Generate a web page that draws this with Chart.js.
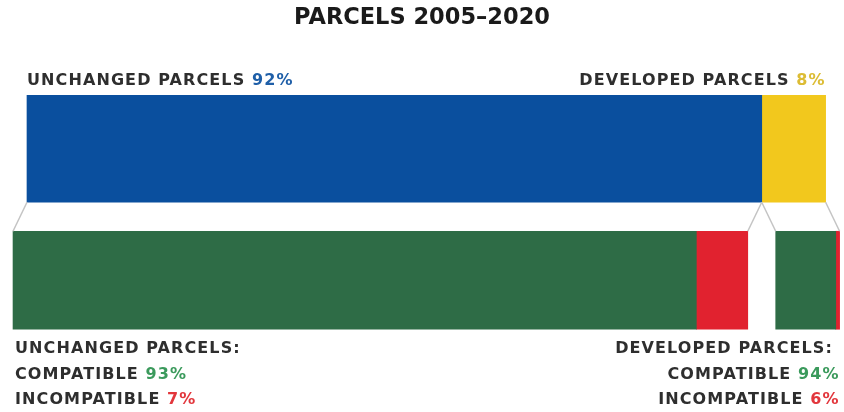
<!DOCTYPE html>
<html>
<head>
<meta charset="utf-8">
<script src="https://cdn.jsdelivr.net/npm/chart.js@4/dist/chart.umd.min.js"></script>
<style>
  html, body { margin: 0; padding: 0; background: #ffffff; }
  #wrap { position: relative; width: 844px; height: 412px; }
</style>
</head>
<body>
<div id="wrap"><canvas id="parcels"></canvas></div>
<script>
// share of all parcels, 2005-2020
const groups = ['UNCHANGED PARCELS', 'DEVELOPED PARCELS'];
const shares = [92, 8];
// split of each group
const compatible = [93, 94];
const incompatible = [7, 6];

const groupColors = ['#0a4f9e', '#f2c81d'];
const groupTextColors = ['#1f5fa8', '#dcbc34'];
const compatColor = '#2e6c46';
const incompatColor = '#e1222f';
const compatText = '#3b9a5c';
const incompatText = '#e2363c';

const spread = 1.75;      // lower row pulled apart by this much on each side
const labelFont = '600 16px "DejaVu Sans", sans-serif';

// floating bar ranges built from the shares
const topStart = [0, shares[0]];
const lowStart = [-spread, shares[0] + spread];

function rowData(row, range) {
    return row === 0 ? [range, null] : [null, range];
}

const datasets = [];
groups.forEach((g, i) => {
    datasets.push({
        label: g,
        data: rowData(0, [topStart[i], topStart[i] + shares[i]]),
        backgroundColor: groupColors[i],
        barThickness: 107
    });
});
groups.forEach((g, i) => {
    const split = lowStart[i] + shares[i] * compatible[i] / 100;
    datasets.push({
        label: g + ' compatible',
        data: rowData(1, [lowStart[i], split]),
        backgroundColor: compatColor,
        barThickness: 98
    });
    datasets.push({
        label: g + ' incompatible',
        data: rowData(1, [split, split + shares[i] * incompatible[i] / 100]),
        backgroundColor: incompatColor,
        barThickness: 98
    });
});

function el(chart, ds, row) {
    return chart.getDatasetMeta(ds).data[row].getProps(['x', 'base', 'y', 'height'], true);
}

function drawPair(ctx, text, pct, pctColor, x, y, align) {
    ctx.textAlign = 'left';
    const space = ctx.measureText(' ').width;
    const wText = ctx.measureText(text).width;
    const wPct = ctx.measureText(pct).width;
    let start = align === 'right' ? x - wText - space - wPct : x;
    ctx.fillStyle = '#2e2e2e';
    ctx.fillText(text, start, y);
    if (pct) {
        ctx.fillStyle = pctColor;
        ctx.fillText(pct, start + wText + space, y);
    }
}

const annotations = {
    id: 'annotations',
    afterDatasetsDraw(chart) {
        const ctx = chart.ctx;
        const topA = el(chart, 0, 0), topB = el(chart, 1, 0);
        const lowA1 = el(chart, 2, 1), lowA2 = el(chart, 3, 1);
        const lowB1 = el(chart, 4, 1), lowB2 = el(chart, 5, 1);
        const yTopBottom = topA.y + topA.height / 2;
        const yTopTop = topA.y - topA.height / 2;
        const yLowTop = lowA1.y - lowA1.height / 2;
        const yLowBottom = lowA1.y + lowA1.height / 2;

        // connectors
        ctx.save();
        ctx.strokeStyle = '#c4c4c4';
        ctx.lineWidth = 1.5;
        [[topA.base, lowA1.base], [topA.x, lowA2.x], [topB.base, lowB1.base], [topB.x, lowB2.x]].forEach(([a, b]) => {
            ctx.beginPath();
            ctx.moveTo(a, yTopBottom);
            ctx.lineTo(b, yLowTop);
            ctx.stroke();
        });

        // labels
        ctx.font = labelFont;
        if ('letterSpacing' in ctx) ctx.letterSpacing = '1.1px';
        ctx.textBaseline = 'alphabetic';
        drawPair(ctx, groups[0], shares[0] + '%', groupTextColors[0], topA.base, yTopTop - 10, 'left');
        drawPair(ctx, groups[1], shares[1] + '%', groupTextColors[1], topB.x, yTopTop - 10, 'right');

        const lines = [24, 49.5, 75];
        const lx = lowA1.base + 2, rx = lowB2.x;
        drawPair(ctx, groups[0] + ':', '', '', lx, yLowBottom + lines[0], 'left');
        drawPair(ctx, 'COMPATIBLE', compatible[0] + '%', compatText, lx, yLowBottom + lines[1], 'left');
        drawPair(ctx, 'INCOMPATIBLE', incompatible[0] + '%', incompatText, lx, yLowBottom + lines[2], 'left');
        drawPair(ctx, groups[1] + ':', '', '', rx, yLowBottom + lines[0], 'right');
        drawPair(ctx, 'COMPATIBLE', compatible[1] + '%', compatText, rx, yLowBottom + lines[1], 'right');
        drawPair(ctx, 'INCOMPATIBLE', incompatible[1] + '%', incompatText, rx, yLowBottom + lines[2], 'right');
        ctx.restore();
    }
};

new Chart(document.getElementById('parcels'), {
    type: 'bar',
    data: { labels: ['all', 'split'], datasets },
    options: {
        indexAxis: 'y',
        responsive: true,
        maintainAspectRatio: false,
        animation: false,
        layout: { padding: { top: 0, bottom: 66, left: 0, right: 0 } },
        datasets: { bar: { grouped: false, borderWidth: 0 } },
        scales: {
            x: { display: false, min: -3.38, max: 102.3 },
            y: { display: false }
        },
        plugins: {
            legend: { display: false },
            tooltip: { enabled: false },
            title: {
                display: true,
                text: 'PARCELS 2005–2020',
                color: '#1a1a1a',
                font: { family: '"DejaVu Sans", sans-serif', size: 22.5, weight: 'bold' },
                padding: { top: 5, bottom: 51 }
            }
        }
    },
    plugins: [annotations]
});
</script>
</body>
</html>
